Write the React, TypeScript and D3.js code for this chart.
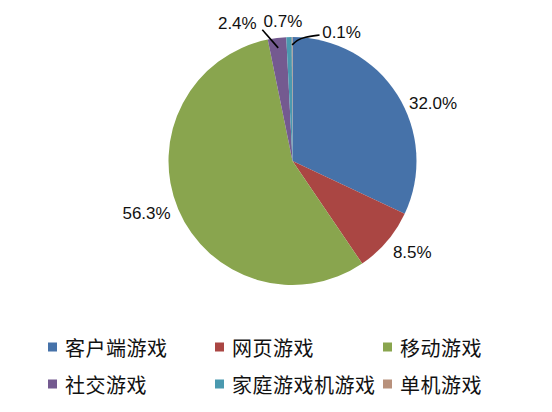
import { useEffect, useRef } from 'react'
import * as d3 from 'd3'

// ---- data ----
const categories = ['客户端游戏', '网页游戏', '移动游戏', '社交游戏', '家庭游戏机游戏', '单机游戏']
const shares = [32.0, 8.5, 56.3, 2.4, 0.7, 0.1]
const colors = ['#4672A9', '#AA4643', '#89A54E', '#745A90', '#4A99AF', '#B8917C']

// label placement: angle offset from slice middle (deg) and radius from centre
const labelPlacement = [
  { dAngle: 10, radius: 152 },
  { dAngle: -3, radius: 151 },
  { dAngle: 3.2, radius: 155 },
  { dAngle: -14.7, radius: 148 },
  { dAngle: -2.3, radius: 140 },
  { dAngle: 21, radius: 138 },
]

interface PieDatum {
  name: string
  value: number
  color: string
  index: number
}

const W = 552
const H = 412

const App = () => {
  const svgRef = useRef<SVGSVGElement | null>(null)

  useEffect(() => {
    const cx = 292.5
    const cy = 161
    const r = 124

    const svg = d3.select(svgRef.current)
    svg.attr('viewBox', `0 0 ${W} ${H}`)
    svg.selectAll('*').remove()

    svg.append('rect').attr('width', W).attr('height', H).attr('fill', '#fff')

    const data: PieDatum[] = categories.map((name, i) => ({
      name,
      value: shares[i],
      color: colors[i],
      index: i,
    }))

    const pie = d3
      .pie<PieDatum>()
      .value((d) => d.value)
      .sort(null)

    const arcs = pie(data)

    const arc = d3.arc<d3.PieArcDatum<PieDatum>>().innerRadius(0).outerRadius(r)

    const g = svg.append('g').attr('transform', `translate(${cx},${cy})`)

    g.selectAll('path.slice')
      .data(arcs)
      .join('path')
      .attr('class', 'slice')
      .attr('d', arc)
      .attr('fill', (d) => d.data.color)

    const polar = (angle: number, radius: number): [number, number] => [
      radius * Math.sin(angle),
      -radius * Math.cos(angle),
    ]

    const labelPos = arcs.map((a, i) => {
      const mid = (a.startAngle + a.endAngle) / 2
      const p = labelPlacement[i]
      return polar(mid + (p.dAngle * Math.PI) / 180, p.radius)
    })

    // ================= LEADER LINES =================
    const line = d3.line().curve(d3.curveBasis)
    // 社交游戏
    {
      const a = arcs[3]
      const mid = (a.startAngle + a.endAngle) / 2
      const inner = polar(mid, r - 10)
      const [lx, ly] = labelPos[3]
      g.append('path')
        .attr('d', d3.line()([[lx + 25, ly + 6], inner]))
        .attr('stroke', '#000')
        .attr('stroke-width', 1.6)
        .attr('fill', 'none')
    }
    // 单机游戏
    {
      const a = arcs[5]
      const mid = (a.startAngle + a.endAngle) / 2
      const inner = polar(mid, r - 8)
      const [lx, ly] = labelPos[5]
      g.append('path')
        .attr('d', line([inner, [inner[0] + 5, inner[1] - 5], [inner[0] + 12, inner[1] - 8], [lx - 22, ly + 3]]))
        .attr('stroke', '#000')
        .attr('stroke-width', 1.6)
        .attr('fill', 'none')
    }

    // ================= LABELS =================
    g.selectAll('text.pct')
      .data(arcs)
      .join('text')
      .attr('class', 'pct')
      .attr('x', (_, i) => labelPos[i][0])
      .attr('y', (_, i) => labelPos[i][1])
      .attr('text-anchor', 'middle')
      .attr('dominant-baseline', 'central')
      .attr('font-family', '"Liberation Sans", Arial, sans-serif')
      .attr('font-size', 17)
      .attr('fill', '#111')
      .text((d) => `${d.data.value.toFixed(1)}%`)

    // ================= LEGEND =================
    const colX = d3.scaleOrdinal<number, number>().domain([0, 1, 2]).range([48, 215, 383])
    const rowY = d3.scaleOrdinal<number, number>().domain([0, 1]).range([347, 384])

    const legend = svg
      .append('g')
      .selectAll('g.item')
      .data(data)
      .join('g')
      .attr('class', 'item')
      .attr('transform', (d) => `translate(${colX(d.index % 3)},${rowY(Math.floor(d.index / 3))})`)

    legend
      .append('rect')
      .attr('x', 0)
      .attr('y', -4.5)
      .attr('width', 9)
      .attr('height', 9)
      .attr('fill', (d) => d.color)

    legend
      .append('text')
      .attr('x', 17)
      .attr('y', 0)
      .attr('dominant-baseline', 'central')
      .attr('font-family', '"Noto Sans CJK SC", sans-serif')
      .attr('font-size', 20)
      .attr('letter-spacing', 0.5)
      .attr('fill', '#111')
      .text((d) => d.name)
  }, [])

  return (
    <svg
      ref={svgRef}
      width={W}
      height={H}
      style={{ position: 'absolute', left: 0, top: 0, display: 'block' }}
    />
  )
}

export default App
